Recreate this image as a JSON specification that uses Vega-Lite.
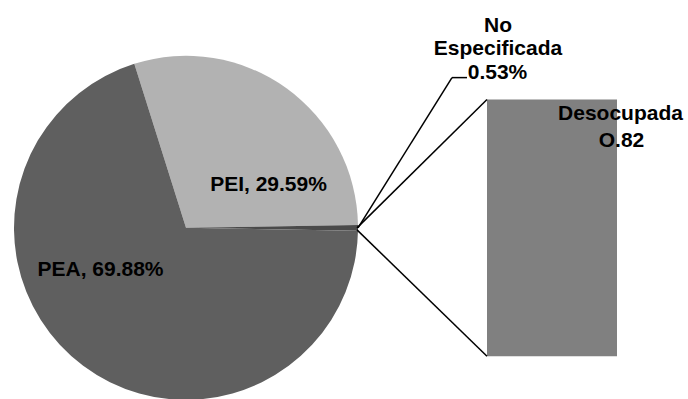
{
  "$schema": "https://vega.github.io/schema/vega-lite/v6.json",
  "width": 688,
  "height": 399,
  "autosize": {"type": "fit", "contains": "padding"},
  "padding": 0,
  "background": "white",
  "config": {"view": {"stroke": null}},
  "layer": [
    {
      "data": {"values": [
        {"cat": "PEI", "value": 29.59, "ord": 1},
        {"cat": "No Especificada", "value": 0.53, "ord": 2},
        {"cat": "PEA", "value": 69.88, "ord": 3}
      ]},
      "mark": {"type": "arc", "radius": 172},
      "encoding": {
        "x": {"datum": 186, "type": "quantitative", "scale": {"domain": [0, 688], "nice": false, "zero": false}, "axis": null},
        "y": {"datum": 229, "type": "quantitative", "scale": {"domain": [0, 399], "nice": false, "zero": false, "reverse": true}, "axis": null},
        "theta": {"field": "value", "type": "quantitative", "stack": true, "scale": {"range": [-0.3054, 5.9778]}},
        "order": {"field": "ord"},
        "color": {"field": "cat", "type": "nominal", "legend": null,
          "scale": {"domain": ["PEA", "PEI", "No Especificada"], "range": ["#5f5f5f", "#b2b2b2", "#4a4a4a"]}}
      }
    },
    {
      "data": {"values": [{"cat": "Desocupada", "x0": 487, "x1": 617, "y0": 100, "y1": 358}]},
      "mark": {"type": "rect", "color": "#808080"},
      "encoding": {
        "x": {"field": "x0", "type": "quantitative"},
        "x2": {"field": "x1"},
        "y": {"field": "y0", "type": "quantitative"},
        "y2": {"field": "y1"}
      }
    },
    {
      "data": {"values": [
        {"x0": 357, "y0": 229, "x1": 487, "y1": 100},
        {"x0": 357, "y0": 231, "x1": 487, "y1": 358},
        {"x0": 358, "y0": 229, "x1": 452, "y1": 78},
        {"x0": 452, "y0": 78, "x1": 467, "y1": 78}
      ]},
      "mark": {"type": "rule", "color": "black", "strokeWidth": 1.5},
      "encoding": {
        "x": {"field": "x0", "type": "quantitative"},
        "x2": {"field": "x1"},
        "y": {"field": "y0", "type": "quantitative"},
        "y2": {"field": "y1"}
      }
    },
    {
      "data": {"values": [
        {"t": "PEI, 29.59%", "x": 268.5, "y": 192},
        {"t": "PEA, 69.88%", "x": 100.5, "y": 277},
        {"t": "No", "x": 498, "y": 32},
        {"t": "Especificada", "x": 498, "y": 55},
        {"t": "0.53%", "x": 497.5, "y": 79},
        {"t": "Desocupada", "x": 620.5, "y": 121},
        {"t": "O.82", "x": 621.5, "y": 148}
      ]},
      "mark": {"type": "text", "font": "Liberation Sans", "fontWeight": "bold", "fontSize": 21, "align": "center", "baseline": "alphabetic", "color": "black"},
      "encoding": {
        "x": {"field": "x", "type": "quantitative"},
        "y": {"field": "y", "type": "quantitative"},
        "text": {"field": "t"}
      }
    }
  ]
}
